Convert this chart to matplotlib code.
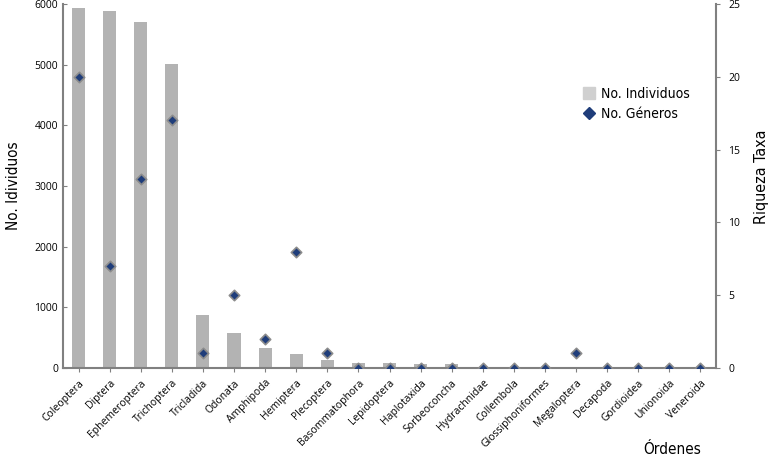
import matplotlib
matplotlib.use("Agg")
import matplotlib.pyplot as plt
from matplotlib.lines import Line2D
from matplotlib import font_manager
import numpy as np

ordenes = ["Coleoptera", "Diptera", "Ephemeroptera", "Trichoptera", "Tricladida",
           "Odonata", "Amphipoda", "Hemiptera", "Plecoptera", "Basommatophora",
           "Lepidoptera", "Haplotaxida", "Sorbeoconcha", "Hydrachnidae", "Collembola",
           "Glossiphoniformes", "Megaloptera", "Decapoda", "Gordioidea", "Unionoida",
           "Veneroida"]
individuos = [5930, 5880, 5700, 5010, 870, 580, 330, 230, 140, 90, 80, 60, 60,
              10, 5, 5, 15, 3, 3, 3, 3]
generos = [20, 7, 13, 17, 1, 5, 2, 8, 1, 0, 0, 0, 0, 0, 0, 0, 1, 0, 0, 0, 0]

plt.rcParams['font.family'] = ['Open Sans', 'DejaVu Sans']
gris = "#808080"

# fuente condensada para los titulos
nombres = [f.fname for f in font_manager.fontManager.ttflist]
cond = [f for f in nombres if "Narrow" in f or "Condensed" in f]
cond = sorted(cond, key=lambda f: ("Bold" in f or "Oblique" in f or "Italic" in f, f))
if cond:
    fuente = font_manager.FontProperties(fname=cond[0])
else:
    fuente = font_manager.FontProperties(family="DejaVu Sans")

def fp(size):
    f = fuente.copy()
    f.set_size(size)
    return f

fig = plt.figure(figsize=(7.72, 4.61), dpi=100)
ax = fig.add_axes([63/772, 1-368/461, (716-63)/772, (368-4)/461])
x = np.arange(len(ordenes))
barras = ax.bar(x, individuos, width=0.42, color="#b3b3b3", zorder=1)
ax.set_xlim(-0.5, len(ordenes)-0.5)
ax.set_ylim(0, 6000)
ax.set_yticks(range(0, 6001, 1000))
ax.set_xticks(x)
ax.set_xticklabels(ordenes, rotation=45, ha="right", rotation_mode="anchor", fontsize=7.5)
ax.tick_params(axis="y", labelsize=7.5, length=3, color=gris, direction="in")
ax.tick_params(axis="x", length=3, color=gris, pad=4)
for s in ["top", "right"]:
    ax.spines[s].set_visible(False)
for s in ["left", "bottom"]:
    ax.spines[s].set_color(gris)
    ax.spines[s].set_linewidth(1.5)
ax.set_ylabel("No. Idividuos", fontproperties=fp(11), labelpad=10)

ax2 = ax.twinx()
ax2.set_ylim(0, 25)
ax2.set_yticks(range(0, 26, 5))
puntos = ax2.scatter(x, generos, marker="D", s=28, color="#1f3d7a", edgecolors="#8c8c8c",
                     linewidths=1.2, zorder=3)
for s in ["top", "left", "bottom"]:
    ax2.spines[s].set_visible(False)
ax2.spines["right"].set_color(gris)
ax2.spines["right"].set_linewidth(1.5)
ax2.tick_params(axis="y", labelsize=7.5, length=3, color=gris, pad=6)
ax2.set_ylabel("Riqueza Taxa", fontproperties=fp(11.5), labelpad=10)
ax2.yaxis.label.set_y(0.525)

h1 = Line2D([], [], marker="s", linestyle="none", markersize=8, color="#d0d0d0")
h2 = Line2D([], [], marker="D", linestyle="none", markersize=6.5, color="#1f3d7a")
fig.legend([h1, h2], ["No. Individuos", "No. Géneros"], loc="upper left",
           bbox_to_anchor=(566/772, 1-74/461), frameon=False, handletextpad=0.1,
           handlelength=1.5, labelspacing=0.45, prop=fp(10))

fig.text(672/772, 1-457/461, "Órdenes", fontproperties=fp(11), ha="center", va="bottom")

fig.savefig("out.png", dpi=100)
